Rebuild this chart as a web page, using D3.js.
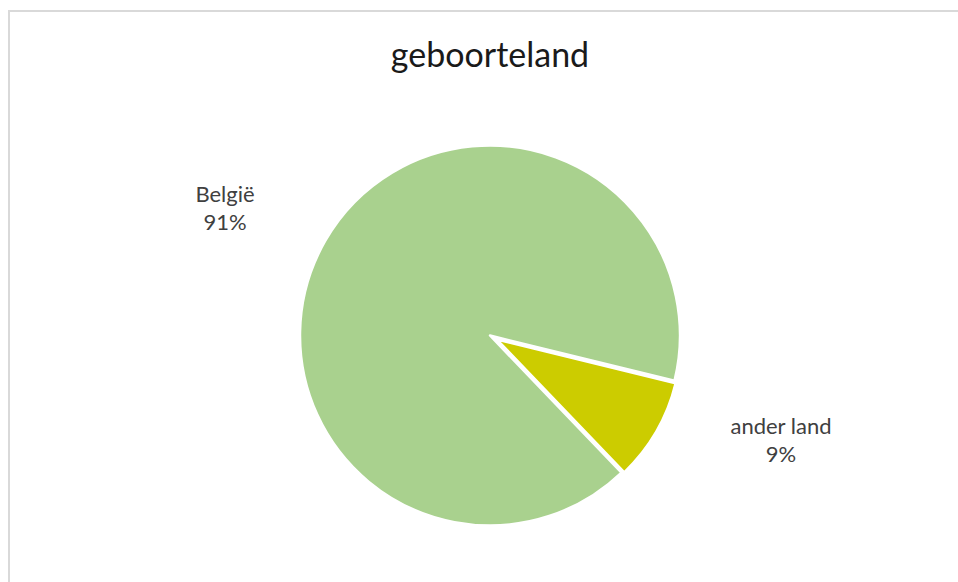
<!DOCTYPE html>
<html>
<head>
<meta charset="utf-8">
<script src="https://cdn.jsdelivr.net/npm/d3@7"></script>
<style>
  body { margin: 0; background: #fff; }
  svg { display: block; }
  text { font-family: "Lato", "Open Sans", sans-serif; }
</style>
</head>
<body>
<svg id="chart" width="958" height="582"></svg>
<script>
const title = "geboorteland";
const categories = ["België", "ander land"];
const values = [91, 9];
const percentLabels = ["91%", "9%"];
const colors = ["#a9d18e", "#cccc00"];

const svg = d3.select("#chart");
const W = 958, H = 582;

svg.append("rect").attr("width", W).attr("height", H).attr("fill", "#fff");
svg.append("rect")
  .attr("x", 9).attr("y", 11).attr("width", W + 20).attr("height", H + 20)
  .attr("fill", "none").attr("stroke", "#d9d9d9").attr("stroke-width", 2);

svg.append("text")
  .attr("x", 490).attr("y", 67)
  .attr("text-anchor", "middle")
  .attr("font-size", 34)
  .attr("fill", "#1a1a1a")
  .text(title);

const cx = 490, cy = 335.5, R = 190, Rex = 184, explode = 8;
const startDeg = 136.2;
const pie = d3.pie().sort(null).value(d => d)
  .startAngle(startDeg * Math.PI / 180)
  .endAngle(startDeg * Math.PI / 180 + 2 * Math.PI);
const arcs = pie(values);

const g = svg.append("g").attr("transform", `translate(${cx},${cy})`);
g.selectAll("path").data(arcs).enter().append("path")
  .attr("d", (d, i) => d3.arc().innerRadius(0).outerRadius(i === 1 ? Rex : R)(d))
  .attr("transform", (d, i) => {
    if (i !== 1) return null;
    const a = (d.startAngle + d.endAngle) / 2;
    return `translate(${explode * Math.sin(a)},${-explode * Math.cos(a)})`;
  })
  .attr("fill", (d, i) => colors[i])
  .attr("stroke", "#fff")
  .attr("stroke-width", 2.5)
  .attr("stroke-linejoin", "round");

const labelPos = [[225, 201.5], [781, 433.5]];
categories.forEach((c, i) => {
  const t = svg.append("text")
    .attr("x", labelPos[i][0]).attr("y", labelPos[i][1])
    .attr("text-anchor", "middle")
    .attr("font-size", 22)
    .attr("fill", "#404040");
  t.append("tspan").attr("x", labelPos[i][0]).text(c);
  t.append("tspan").attr("x", labelPos[i][0]).attr("dy", 28.5).text(percentLabels[i]);
});
</script>
</body>
</html>
